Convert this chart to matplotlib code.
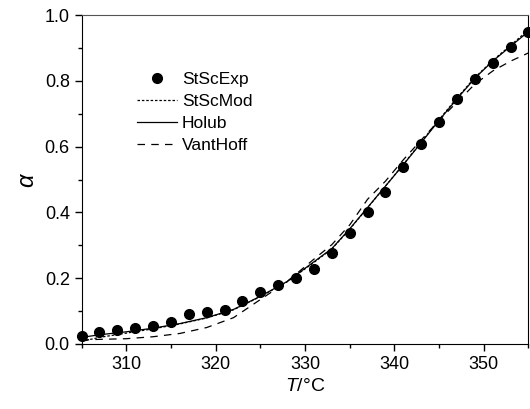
import matplotlib
matplotlib.use('Agg')
from matplotlib import pyplot as plt
from matplotlib.ticker import MultipleLocator, FormatStrFormatter

plt.rcParams['font.family'] = ['Liberation Sans', 'DejaVu Sans']
plt.rcParams['mathtext.fontset'] = 'custom'
plt.rcParams['mathtext.it'] = 'Liberation Sans:italic'

# experimental points
t_exp = [305, 307, 309, 311, 313, 315, 317, 319, 321, 323, 325, 327, 329,
         331, 333, 335, 337, 339, 341, 343, 345, 347, 349, 351, 353, 355]
a_exp = [0.023, 0.035, 0.041, 0.048, 0.056, 0.068, 0.090, 0.096, 0.104,
         0.131, 0.158, 0.179, 0.200, 0.227, 0.276, 0.338, 0.400, 0.462,
         0.538, 0.607, 0.675, 0.744, 0.806, 0.855, 0.902, 0.950]

# model curves
t_mod = [305, 307, 310, 313, 316, 319, 322, 325, 328, 331, 333, 335, 337,
         339, 341, 343, 345, 347, 349, 351, 353, 355]
a_holub = [0.020, 0.028, 0.037, 0.048, 0.062, 0.080, 0.105, 0.145, 0.190,
           0.250, 0.290, 0.350, 0.415, 0.480, 0.545, 0.612, 0.680, 0.745,
           0.808, 0.860, 0.905, 0.950]
a_stsc = [0.008, 0.020, 0.033, 0.046, 0.061, 0.079, 0.104, 0.144, 0.189,
          0.248, 0.289, 0.349, 0.414, 0.480, 0.546, 0.614, 0.682, 0.748,
          0.810, 0.862, 0.908, 0.955]
a_vant = [0.012, 0.014, 0.016, 0.022, 0.032, 0.050, 0.080, 0.135, 0.190,
          0.258, 0.302, 0.362, 0.440, 0.495, 0.560, 0.620, 0.680, 0.735,
          0.790, 0.830, 0.860, 0.885]

fig = plt.figure(figsize=(5.3, 4.09), dpi=100)
ax = fig.add_axes([0.154, 0.159, 0.843, 0.804])

ax.plot(t_exp, a_exp, 'o', color='black', markersize=7, label='StScExp', clip_on=False, zorder=3)
ax.plot(t_mod, a_stsc, color='black', lw=0.9, linestyle=(0, (2, 1.5)), label='StScMod')
ax.plot(t_mod, a_holub, color='black', lw=0.9, label='Holub')
ax.plot(t_mod, a_vant, color='black', lw=0.9, linestyle=(0, (6, 5)), label='VantHoff')

ax.set_xlim(305, 355)
ax.set_ylim(0, 1.0)
ax.xaxis.set_major_locator(MultipleLocator(10))
ax.xaxis.set_minor_locator(MultipleLocator(5))
ax.yaxis.set_major_locator(MultipleLocator(0.2))
ax.yaxis.set_minor_locator(MultipleLocator(0.1))
ax.yaxis.set_major_formatter(FormatStrFormatter('%.1f'))
ax.tick_params(which='major', direction='out', length=5, width=1, labelsize=13)
ax.tick_params(which='minor', direction='out', length=3, width=1)
ax.tick_params(top=False, right=False)
ax.spines['top'].set_color('#555555')

ax.set_xlabel('$T$/°C', fontsize=14)
ax.set_ylabel(r'$\alpha$', fontsize=17)

ax.legend(loc='upper left', bbox_to_anchor=(0.09, 0.875), frameon=False, fontsize=12.5,
          handlelength=2.3, handletextpad=0.25, labelspacing=0.4)

fig.savefig('out.png', dpi=100)
